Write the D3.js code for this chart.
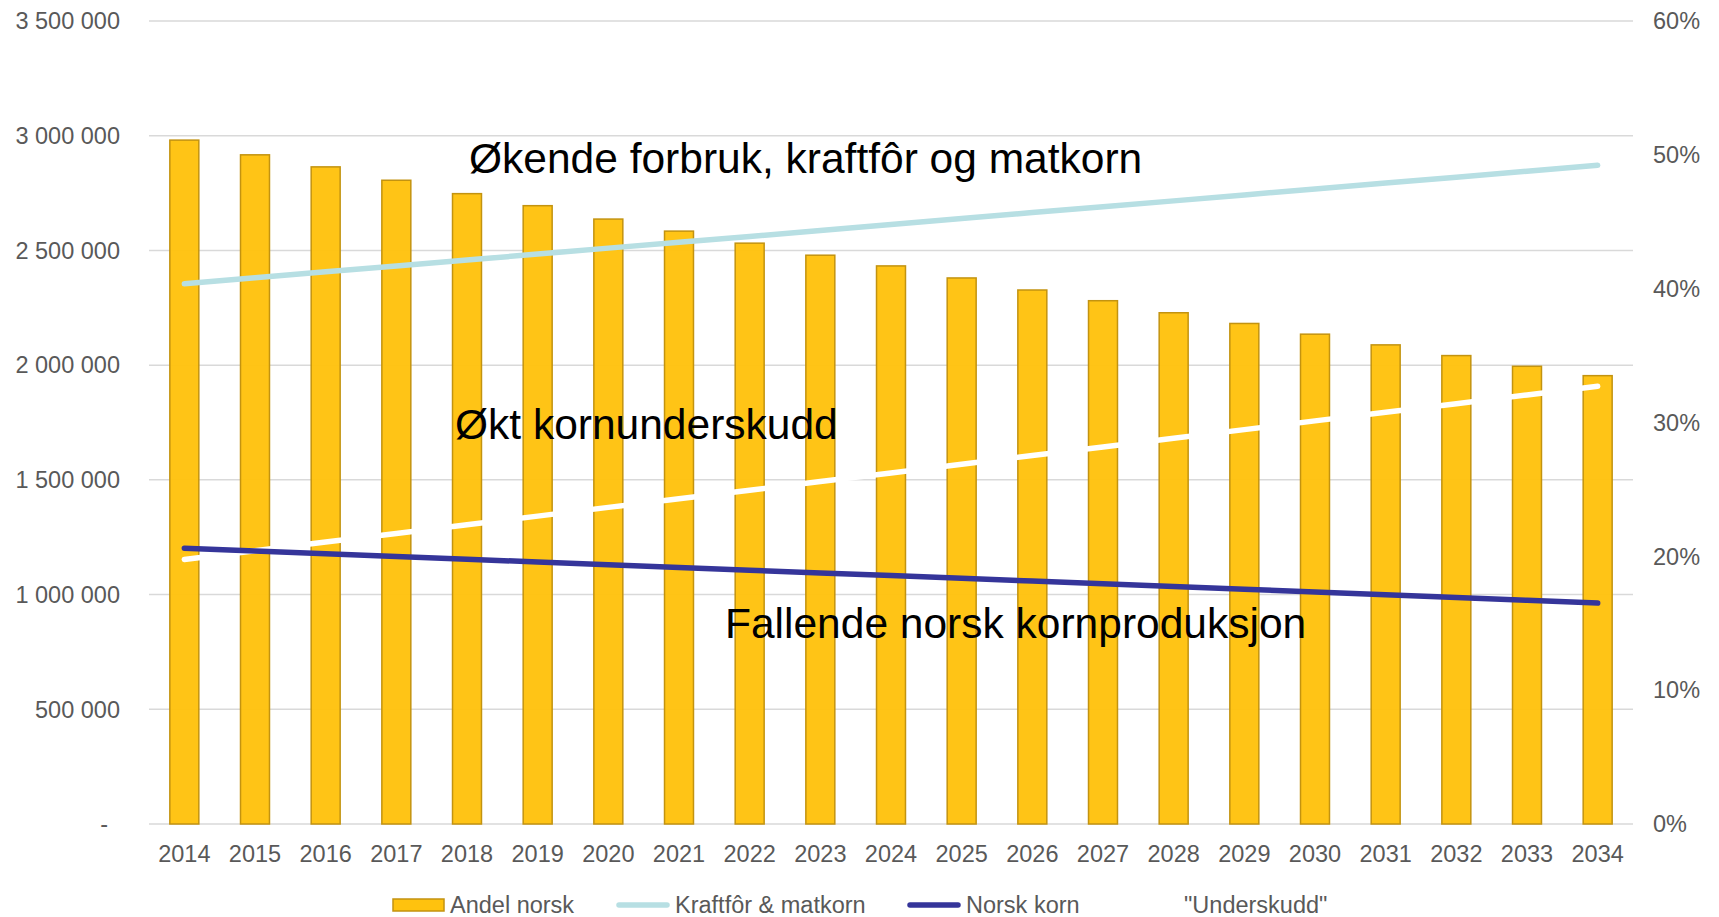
<!DOCTYPE html>
<html>
<head>
    <meta charset="utf-8">
    <title>Kornbalanse 2014-2034</title>
    <script type="text/javascript" src="https://cdn.jsdelivr.net/npm/d3@7/dist/d3.min.js"></script>
    <style>
        body { margin: 0; background: #fff; }
        svg text { font-family: "Liberation Sans", Arial, sans-serif; }
        .tick { fill: #595959; font-size: 23.5px; }
        .note { fill: #000; font-size: 42.5px; }
    </style>
</head>
<body>
    <svg id="chart" width="1719" height="917"></svg>
    <script type="text/javascript">
        var years = [2014, 2015, 2016, 2017, 2018, 2019, 2020, 2021, 2022, 2023, 2024,
                     2025, 2026, 2027, 2028, 2029, 2030, 2031, 2032, 2033, 2034],
            // andel norsk, prosent (høyre akse)
            andelNorsk = [51.1, 50.0, 49.1, 48.1, 47.1, 46.2, 45.2, 44.3, 43.4, 42.5, 41.7,
                          40.8, 39.9, 39.1, 38.2, 37.4, 36.6, 35.8, 35.0, 34.2, 33.5],
            // tonn (venstre akse)
            kraftfor = [2355000, 2381000, 2407000, 2432000, 2458000, 2484000, 2510000,
                        2536000, 2561000, 2587000, 2613000, 2639000, 2665000, 2690000,
                        2716000, 2742000, 2768000, 2794000, 2819000, 2845000, 2871000],
            norskKorn = [1202000, 1190000, 1178000, 1166000, 1154000, 1142000, 1130000,
                         1118000, 1106000, 1094000, 1083000, 1071000, 1059000, 1047000,
                         1035000, 1023000, 1011000, 999000, 987000, 975000, 963000],
            underskudd = [1153000, 1191000, 1229000, 1266000, 1304000, 1342000, 1380000,
                          1418000, 1455000, 1493000, 1530000, 1568000, 1606000, 1643000,
                          1681000, 1719000, 1757000, 1795000, 1832000, 1870000, 1908000],
            leftTicks = [0, 500000, 1000000, 1500000, 2000000, 2500000, 3000000, 3500000],
            rightTicks = [0, 10, 20, 30, 40, 50, 60],
            legendItems = ['Andel norsk', 'Kraftfôr & matkorn', 'Norsk korn', '"Underskudd"'];

        var svg = d3.select('#chart'),
            plotLeft = 149, plotRight = 1633, plotTop = 21, plotBottom = 824;

        var x = d3.scaleBand().domain(years).range([plotLeft, plotRight]).paddingInner(0.59).paddingOuter(0.295),
            y = d3.scaleLinear().domain([0, 3500000]).range([plotBottom, plotTop]),
            y2 = d3.scaleLinear().domain([0, 60]).range([plotBottom, plotTop]);

        function fmt (v) {
            return v === 0 ? '-' : d3.format(',')(v).replace(/,/g, ' ');
        }

        // gridlines
        svg.append('g').selectAll('line')
            .data(leftTicks)
            .enter().append('line')
            .attr('x1', plotLeft).attr('x2', plotRight)
            .attr('y1', function (d) { return y(d); })
            .attr('y2', function (d) { return y(d); })
            .attr('stroke', '#d9d9d9')
            .attr('stroke-width', 1.5);

        // left axis labels
        svg.append('g').selectAll('text')
            .data(leftTicks)
            .enter().append('text')
            .attr('class', 'tick')
            .attr('x', function (d) { return d === 0 ? 108 : 120; })
            .attr('y', function (d) { return y(d); })
            .attr('dy', '.35em')
            .attr('text-anchor', 'end')
            .text(fmt);

        // right axis labels
        svg.append('g').selectAll('text')
            .data(rightTicks)
            .enter().append('text')
            .attr('class', 'tick')
            .attr('x', 1653)
            .attr('y', function (d) { return y2(d); })
            .attr('dy', '.35em')
            .text(function (d) { return d + '%'; });

        // year labels
        svg.append('g').selectAll('text')
            .data(years)
            .enter().append('text')
            .attr('class', 'tick')
            .attr('x', function (d) { return x(d) + x.bandwidth() / 2; })
            .attr('y', 862)
            .attr('text-anchor', 'middle')
            .text(function (d) { return d; });

        // bars
        svg.append('g').selectAll('rect')
            .data(years)
            .enter().append('rect')
            .attr('x', function (d) { return x(d); })
            .attr('width', x.bandwidth())
            .attr('y', function (d, i) { return y2(andelNorsk[i]); })
            .attr('height', function (d, i) { return plotBottom - y2(andelNorsk[i]); })
            .attr('fill', '#ffc20e')
            .attr('fill-opacity', 0.97)
            .attr('stroke', '#c39310')
            .attr('stroke-width', 1.5);

        function drawLine (values, color) {
            var line = d3.line()
                .x(function (d, i) { return x(years[i]) + x.bandwidth() / 2; })
                .y(function (d) { return y(d); });
            svg.append('path')
                .datum(values)
                .attr('d', line)
                .attr('fill', 'none')
                .attr('stroke', color)
                .attr('stroke-width', 5.5)
                .attr('stroke-linecap', 'round')
                .attr('stroke-linejoin', 'round');
        }

        drawLine(underskudd, '#ffffff');
        drawLine(kraftfor, '#b7dfe3');
        drawLine(norskKorn, '#35359a');

        // annotations
        var notes = [
            { t: 'Økende forbruk, kraftfôr og matkorn', x: 469, y: 173 },
            { t: 'Økt kornunderskudd', x: 455, y: 439 },
            { t: 'Fallende norsk kornproduksjon', x: 725, y: 638 }
        ];
        svg.append('g').selectAll('text')
            .data(notes)
            .enter().append('text')
            .attr('class', 'note')
            .attr('x', function (d) { return d.x; })
            .attr('y', function (d) { return d.y; })
            .text(function (d) { return d.t; });

        // legend
        var legendX = [393, 617, 908, 1126],
            legend = svg.append('g').selectAll('g')
                .data(legendItems)
                .enter().append('g')
                .attr('transform', function (d, i) { return 'translate(' + legendX[i] + ',905)'; });

        legend.each(function (d, i) {
            var g = d3.select(this);
            if (i === 0) {
                g.append('rect')
                    .attr('x', 0).attr('y', -6)
                    .attr('width', 51).attr('height', 12)
                    .attr('fill', '#ffc20e')
                    .attr('stroke', '#c39310')
                    .attr('stroke-width', 1.5);
            } else {
                g.append('line')
                    .attr('x1', 2).attr('x2', 50)
                    .attr('stroke', ['', '#b7dfe3', '#35359a', '#ffffff'][i])
                    .attr('stroke-width', 5.5)
                    .attr('stroke-linecap', 'round');
            }
            g.append('text')
                .attr('class', 'tick')
                .attr('x', i === 0 ? 57 : 58)
                .attr('dy', '.35em')
                .text(d);
        });
    </script>
</body>
</html>
